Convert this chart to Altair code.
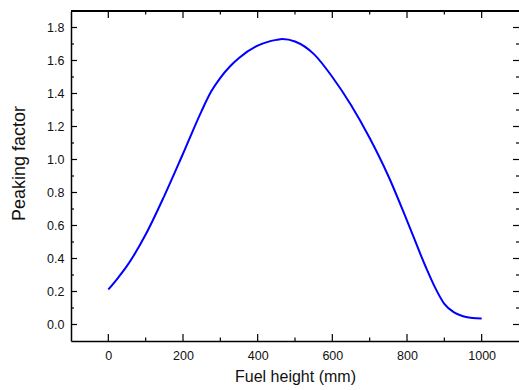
import altair as alt
import pandas as pd

# Curve
height_mm = [0, 25, 50, 100, 150, 200, 250, 275, 300, 325, 350, 400, 450, 466, 500, 550,
             600, 650, 700, 750, 800, 850, 875, 900, 925, 950, 975, 1000]
peaking = [0.212, 0.28, 0.355, 0.545, 0.78, 1.035, 1.295, 1.41, 1.495, 1.562, 1.615, 1.69, 1.725, 1.730,
           1.715, 1.64, 1.50, 1.33, 1.13, 0.90, 0.63, 0.35, 0.225, 0.125, 0.075, 0.05, 0.039, 0.036]

x_major = [0, 200, 400, 600, 800, 1000]
x_minor = [100, 300, 500, 700, 900]
y_major = [0.0, 0.2, 0.4, 0.6, 0.8, 1.0, 1.2, 1.4, 1.6, 1.8]
y_minor = [0.1, 0.3, 0.5, 0.7, 0.9, 1.1, 1.3, 1.5, 1.7]

W, H = 448, 330
FONT = "Liberation Sans"

curve = pd.DataFrame({"h": height_mm, "p": peaking})
xmaj = pd.DataFrame({"h": x_major})
xmin = pd.DataFrame({"h": x_minor})
ymaj = pd.DataFrame({"p": y_major})
ymin = pd.DataFrame({"p": y_minor})

xscale = alt.Scale(domain=[-100, 1100], nice=False, zero=False)
yscale = alt.Scale(domain=[-0.1, 1.9], nice=False, zero=False)

xaxis = alt.Axis(values=x_major, format="d", ticks=False, grid=False, domain=True,
                 domainColor="#000000", domainWidth=1.5,
                 labelFont=FONT, labelFontSize=12.5, labelColor="#111111",
                 labelPadding=8, title="Fuel height (mm)",
                 titleFont=FONT, titleFontSize=16, titleFontWeight="normal",
                 titleColor="#111111", titlePadding=7)
yaxis = alt.Axis(values=y_major, format=".1f", ticks=False, grid=False,
                 domain=True, domainColor="#000000", domainWidth=1.5,
                 labelFont=FONT, labelFontSize=12.5, labelColor="#111111",
                 labelPadding=7, title="Peaking factor",
                 titleFont=FONT, titleFontSize=18, titleFontWeight="normal",
                 titleColor="#111111", titleAngle=270, titleAlign="center",
                 titleBaseline="alphabetic", titleX=-47, titleY=152)

line = alt.Chart(curve).mark_line(color="#0000FF", strokeWidth=2, interpolate="monotone").encode(
    x=alt.X("h:Q", scale=xscale, axis=xaxis),
    y=alt.Y("p:Q", scale=yscale, axis=yaxis),
)

def xticks(df, length):
    bottom = alt.Chart(df).mark_rule(color="#000000", strokeWidth=1.2).encode(
        x=alt.X("h:Q", scale=xscale, axis=xaxis),
        y=alt.value(H), y2=alt.value(H - length))
    top = alt.Chart(df).mark_rule(color="#000000", strokeWidth=1.2).encode(
        x=alt.X("h:Q", scale=xscale, axis=xaxis),
        y=alt.value(0), y2=alt.value(length))
    return [bottom, top]

def yticks(df, length):
    left = alt.Chart(df).mark_rule(color="#000000", strokeWidth=1.2).encode(
        y=alt.Y("p:Q", scale=yscale, axis=yaxis),
        x=alt.value(0), x2=alt.value(length))
    right = alt.Chart(df).mark_rule(color="#000000", strokeWidth=1.2).encode(
        y=alt.Y("p:Q", scale=yscale, axis=yaxis),
        x=alt.value(W), x2=alt.value(W - length))
    return [left, right]

top_border = alt.Chart(curve).mark_rule(color="#000000", strokeWidth=1.5).encode(
    x=alt.value(0), x2=alt.value(W), y=alt.value(0))

layers = [line, top_border] + xticks(xmaj, 7) + xticks(xmin, 3.5) + yticks(ymaj, 6) + yticks(ymin, 3)

chart = alt.layer(*layers).properties(
    width=W, height=H,
    autosize=alt.AutoSizeParams(type="none"),
    padding={"left": 71, "top": 11, "right": 0, "bottom": 49},
    background="#FFFFFF",
).configure_view(stroke=None)

chart.save("out.html", embed_options={"renderer": "svg", "actions": False})
